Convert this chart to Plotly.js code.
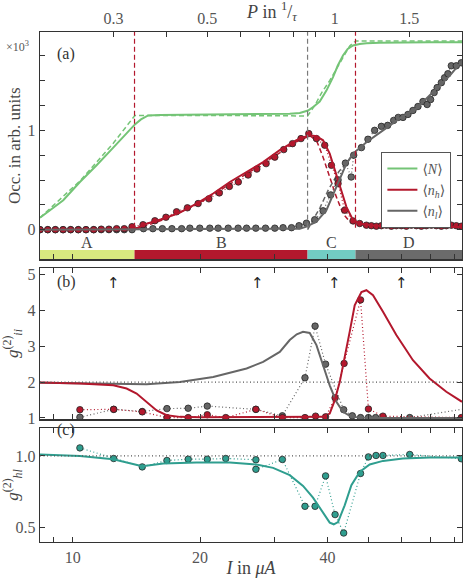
<!DOCTYPE html>
<html>
<head>
<meta charset="utf-8">
<script src="https://cdn.plot.ly/plotly-3.0.1.min.js"></script>
<style>
  html, body { margin: 0; padding: 0; background: #ffffff; }
  #chart { width: 466px; height: 578px; }
</style>
</head>
<body>
<div id="chart"></div>
<script>
// ---- Axis extents -------------------------------------------------------
// Injection current I in µA (log scale) and the current at which P = 1/τ
const currentMin = 8.37;
const currentMax = 83.2;
const currentAtUnitPump = 41.6;

const currentTicks = [10, 20, 40];
const currentMinorTicks = [9, 30, 50, 60, 70, 80];
const pumpTicks = [0.3, 0.5, 1, 1.5];
const pumpMinorTicks = [0.4, 0.6, 0.7, 0.8, 0.9];

// ---- Operating regimes --------------------------------------------------
const regimeNames = ['A', 'B', 'C', 'D'];
const regimeEdges = [8.37, 14.0, 35.9, 46.6, 83.2];
const regimeColors = ['#d8e97f', '#b3182d', '#72ccc3', '#6b6b6b'];
const thresholdColors = ['#b3182d', '#7a7a7a', '#b3182d'];

// ---- (a) occupations, in units of 10^3 ----------------------------------
const totalModelI = [8.37, 9.50, 10.40, 11.39, 12.47, 13.65, 14.03, 14.50, 15.08, 16.07, 19.97, 26.21, 32.58, 34.41, 36.0, 37.14, 38.35, 39.78, 41.24, 42.3, 43.53, 44.66, 45.98, 47.67, 49.45, 53.15, 59.27, 69.74, 83.2];
const totalModel = [0.12, 0.296, 0.48, 0.648, 0.826, 1.0, 1.06, 1.11, 1.15, 1.155, 1.158, 1.162, 1.168, 1.174, 1.20, 1.24, 1.29, 1.40, 1.535, 1.65, 1.754, 1.82, 1.854, 1.87, 1.877, 1.883, 1.887, 1.888, 1.888];

const totalStepI = [8.37, 10.40, 12.47, 13.65, 14.03, 20.0, 30.0, 35.9, 37.33, 38.78, 40.50, 42.08, 43.71, 45.15, 46.66, 83.2];
const totalStep = [0.12, 0.49, 0.87, 1.08, 1.15, 1.15, 1.148, 1.145, 1.25, 1.38, 1.50, 1.62, 1.75, 1.85, 1.90, 1.90];

const highModelI = [8.37, 13.65, 14.26, 14.95, 16.37, 17.92, 19.62, 21.48, 23.52, 25.76, 28.19, 30.86, 33.80, 35.17, 36.33, 37.68, 39.06, 40.50, 41.62, 42.77, 44.35, 45.98, 47.67, 50.35, 54.13, 66.07, 83.2];
const highModel = [0.0, 0.005, 0.02, 0.06, 0.11, 0.172, 0.263, 0.364, 0.48, 0.58, 0.68, 0.80, 0.90, 0.93, 0.95, 0.94, 0.90, 0.766, 0.598, 0.43, 0.23, 0.095, 0.062, 0.045, 0.038, 0.03, 0.028];

const highStepI = [14.03, 16.37, 19.62, 23.52, 28.19, 33.80, 36.33, 37.68, 39.06, 40.50, 41.99, 43.54, 45.15, 47.24, 53.15, 83.2];
const highStep = [0.0, 0.1, 0.25, 0.46, 0.665, 0.885, 0.945, 0.90, 0.73, 0.53, 0.33, 0.163, 0.08, 0.045, 0.032, 0.028];

const lowModelI = [8.37, 34.41, 35.68, 37.68, 39.78, 41.24, 42.77, 44.35, 45.98, 49.45, 54.13, 59.27, 64.9, 71.0, 77.76, 83.2];
const lowModel = [0, 0.01, 0.03, 0.08, 0.196, 0.347, 0.515, 0.665, 0.766, 0.88, 1.0, 1.12, 1.22, 1.385, 1.55, 1.695];

const lowStepI = [35.9, 37.0, 38.4, 40.2, 42.5, 46.6];
const lowStep = [0, 0.1, 0.22, 0.40, 0.58, 0.78];

const highDataI = [8.37, 8.73, 9.10, 9.49, 9.89, 10.31, 10.75, 11.21, 11.68, 12.18, 12.70, 13.24, 13.81,
  14.66, 15.64, 16.61, 17.60, 18.67, 19.79, 20.98, 22.21, 23.46, 24.63, 25.98, 27.24, 28.65, 30.04, 31.54, 33.08, 34.64, 36.14,
  37.68, 39.42, 40.88, 42.38, 43.94, 45.98, 47.67,
  49.45, 50.81, 52.21, 53.65, 55.13, 56.65, 58.20, 59.81, 61.46, 63.15, 64.90, 66.68, 68.52, 70.41, 72.35, 74.35, 76.40, 78.50, 80.66, 82.9];
const highData = [0, 0, 0, 0, 0, 0, 0, 0, 0.005, 0.005, 0.01, 0.01, 0.03,
  0.05, 0.09, 0.125, 0.18, 0.22, 0.263, 0.31, 0.37, 0.435, 0.48, 0.55, 0.61, 0.665, 0.73, 0.806, 0.866, 0.917, 0.967,
  0.917, 0.85, 0.648, 0.464, 0.196, 0.088, 0.062,
  0.045, 0.04, 0.035, 0.04, 0.045, 0.035, 0.04, 0.04, 0.035, 0.045, 0.04, 0.035, 0.04, 0.045, 0.04, 0.035, 0.04, 0.045, 0.04, 0.035];

const lowDataI = [8.37, 8.73, 9.10, 9.49, 9.89, 10.31, 10.75, 11.21, 11.68, 12.18, 12.70, 13.24, 13.81,
  14.70, 15.47, 16.29, 17.16, 18.09, 18.92, 19.97, 21.09, 22.07, 23.31, 24.60, 25.76, 27.09, 28.56, 30.04, 31.42, 32.90, 34.27, 35.68,
  37.33, 39.06, 40.72, 42.38, 44.11, 45.53, 46.15,
  48.13, 49.87, 51.72, 53.65, 55.52, 57.36, 58.79, 60.34, 62.0, 63.70, 65.46, 67.27, 68.82, 70.14, 71.49, 72.67, 74.35, 75.68, 77.05, 78.5, 80.66, 82.9];
const lowData = [0, 0, 0, 0, 0, 0, 0, 0, 0, 0, 0, 0, 0,
  0.01, 0.01, 0.01, 0.01, 0.01, 0.015, 0.015, 0.015, 0.015, 0.015, 0.015, 0.015, 0.015, 0.015, 0.015, 0.02, 0.02, 0.04, 0.065,
  0.10, 0.19, 0.35, 0.50, 0.67, 0.53, 0.75,
  0.826, 0.91, 1.0, 1.04, 1.05, 1.10, 1.13, 1.13, 1.16, 1.20, 1.24, 1.29, 1.26, 1.31, 1.38, 1.43, 1.48, 1.53, 1.57, 1.65, 1.65, 1.68];

// ---- (b) autocorrelation g_ii^(2) ---------------------------------------
const g2LowModelI = [8.37, 10.40, 12.47, 14.95, 17.92, 21.48, 25.76, 28.19, 30.86, 32.58, 33.85, 35.03, 36.33, 37.68, 39.06, 40.50, 42.0, 43.54, 45.57, 50.35, 83.2];
const g2LowModel = [1.98, 1.96, 1.94, 1.94, 2.0, 2.14, 2.38, 2.56, 2.84, 3.17, 3.33, 3.40, 3.37, 3.03, 2.47, 1.91, 1.45, 1.17, 1.03, 1.0, 1.0];

const g2HighModelI = [8.37, 10.40, 12.47, 13.41, 14.16, 14.95, 15.79, 16.67, 17.92, 19.97, 30.86, 39.06, 40.50, 41.62, 42.77, 43.94, 45.15, 46.40, 48.13, 49.45, 51.26, 54.13, 58.2, 63.7, 69.74, 76.4, 83.2];
const g2HighModel = [1.99, 1.96, 1.91, 1.82, 1.68, 1.45, 1.21, 1.075, 1.03, 1.02, 1.02, 1.03, 1.12, 1.49, 2.0, 2.66, 3.40, 4.14, 4.51, 4.56, 4.42, 3.96, 3.31, 2.61, 2.10, 1.73, 1.45];

const g2LowDataI = [10.4, 12.5, 14.6, 16.7, 18.75, 20.8, 27.1, 31.3, 35.4, 37.4, 39.6, 43.7, 45.8, 47.9, 50.0, 52.0, 62.6, 95.0];
const g2LowData = [1.02, 1.24, 1.18, 1.26, 1.27, 1.33, 1.24, 1.06, 2.12, 3.56, 2.5, 1.23, 1.06, 1.01, 1.01, 1.01, 1.01, 1.35];

const g2HighDataI = [10.4, 12.5, 14.6, 16.7, 18.75, 20.8, 23.0, 27.1, 31.3, 35.4, 37.5, 39.6, 41.7, 43.8, 47.9, 50.0, 54.1, 82.9];
const g2HighData = [1.23, 1.24, 1.17, 1.01, 1.01, 1.09, 1.01, 1.24, 1.01, 1.01, 1.05, 1.03, 1.56, 2.52, 4.29, 1.25, 1.05, 1.01];

// Currents marked with arrows in (b)
const markedCurrents = [12.5, 27.4, 41.6, 59.9];

// ---- (c) cross-correlation g_hl^(2) -------------------------------------
const g2CrossModelI = [8.37, 10.40, 12.47, 13.65, 14.6, 15.22, 16.37, 19.62, 23.52, 27.19, 29.76, 32.58, 35.03, 36.98, 39.06, 40.50, 41.4, 42.38, 43.94, 45.57, 47.67, 50.35, 54.13, 60.3, 69.74, 83.2];
const g2CrossModel = [1.01, 1.0, 0.977, 0.947, 0.928, 0.935, 0.947, 0.954, 0.954, 0.94, 0.916, 0.865, 0.79, 0.708, 0.60, 0.533, 0.521, 0.537, 0.654, 0.795, 0.888, 0.94, 0.965, 0.982, 0.989, 0.989];

const g2CrossDataI = [10.4, 12.5, 14.6, 16.7, 18.75, 20.8, 23.0, 27.1, 27.1, 31.3, 35.4, 37.4, 39.6, 41.7, 43.7, 47.9, 50.0, 52.1, 54.1, 62.6, 82.9];
const g2CrossData = [1.056, 0.982, 0.923, 0.968, 0.977, 0.977, 0.982, 0.973, 0.906, 0.975, 0.647, 0.647, 0.86, 0.589, 0.46, 0.877, 0.993, 1.003, 1.003, 1.01, 0.98];

// ---- Styling ------------------------------------------------------------
const green = '#74c476';
const red = '#b3182d';
const grey = '#666666';
const teal = '#2f9e8f';
const ink = '#333333';
const textGrey = '#555555';
const serif = 'Liberation Serif, DejaVu Serif, serif';
const dotted = '1px,2.5px';

function curve(x, y, color, axes, extra) {
  return Object.assign({
    x: x, y: y, type: 'scatter', mode: 'lines',
    xaxis: axes[0], yaxis: axes[1],
    line: { color: color, width: 2 },
    showlegend: false, hoverinfo: 'skip'
  }, extra || {});
}

function dashed(x, y, color, axes) {
  return curve(x, y, color, axes, { line: { color: color, width: 1.5, dash: '5px,3px' } });
}

function measured(x, y, color, axes) {
  return {
    x: x, y: y, type: 'scatter', mode: 'lines+markers',
    xaxis: axes[0], yaxis: axes[1],
    line: { color: color, width: 1.2, dash: dotted },
    marker: { color: color, size: 6.5, line: { color: '#262626', width: 0.8 } },
    showlegend: false, hoverinfo: 'skip', cliponaxis: true
  };
}

const A = ['x', 'y'], B = ['x2', 'y2'], C = ['x3', 'y3'];

const traces = [
  // (a)
  dashed(totalStepI, totalStep, green, A),
  dashed(highStepI, highStep, red, A),
  dashed(lowStepI, lowStep, grey, A),
  measured(lowDataI, lowData, grey, A),
  measured(highDataI, highData, red, A),
  curve(totalModelI, totalModel, green, A, { name: '⟨<i>N</i>⟩', showlegend: true }),
  curve(highModelI, highModel, red, A, { name: '⟨<i>n<sub>h</sub></i>⟩', showlegend: true }),
  curve(lowModelI, lowModel, grey, A, { name: '⟨<i>n<sub>l</sub></i>⟩', showlegend: true }),
  // top pump-rate axis carrier
  { x: pumpTicks, y: pumpTicks.map(() => null), xaxis: 'x4', yaxis: 'y', type: 'scatter', mode: 'lines', showlegend: false, hoverinfo: 'skip' },
  // (b)
  measured(g2LowDataI, g2LowData, grey, B),
  measured(g2HighDataI, g2HighData, red, B),
  curve(g2LowModelI, g2LowModel, grey, B),
  curve(g2HighModelI, g2HighModel, red, B),
  // (c)
  measured(g2CrossDataI, g2CrossData, teal, C),
  curve(g2CrossModelI, g2CrossModel, teal, C)
];

const logRange = [Math.log10(currentMin), Math.log10(currentMax)];
const tickFont = { family: serif, size: 16, color: textGrey };
const titleFont = { family: serif, size: 17, color: '#444' };

function tickStyle(minorVals) {
  return {
    ticks: 'inside', ticklen: 5, tickwidth: 1, tickcolor: ink,
    minor: { tickvals: minorVals, ticks: 'inside', ticklen: 5, tickwidth: 1, tickcolor: ink },
    showline: true, linecolor: ink, linewidth: 1.3,
    showgrid: false, zeroline: false, tickfont: tickFont
  };
}

function currentAxis(anchor, labelled) {
  return Object.assign(tickStyle(currentMinorTicks), {
    type: 'log', range: logRange, anchor: anchor,
    tickmode: 'array', tickvals: currentTicks, ticktext: currentTicks.map(String),
    showticklabels: labelled, mirror: 'allticks'
  });
}

function valueAxis(domain, range, vals, minorVals, title, standoff) {
  const axis = Object.assign(tickStyle(minorVals), {
    domain: domain, range: range,
    tickmode: 'array', tickvals: vals, ticktext: vals.map(v => v.toFixed(range[1] < 2 && range[0] > 0 ? 1 : 0)),
    mirror: 'allticks',
    title: { text: title, font: titleFont }
  });
  if (standoff !== undefined) axis.title.standoff = standoff;
  return axis;
}

const occRange = [-0.30, 1.99];
const bandTop = -0.205;

const xA = currentAxis('y', false);
xA.mirror = false;

const layout = {
  width: 466, height: 578,
  margin: { l: 40, r: 3.5, t: 32, b: 36 },
  paper_bgcolor: '#ffffff', plot_bgcolor: '#ffffff',
  font: { family: serif, color: textGrey },
  xaxis: xA,
  xaxis2: currentAxis('y2', false),
  xaxis3: Object.assign(currentAxis('y3', true), {
    title: { text: '<i>I</i> in <i>μA</i>', font: { family: serif, size: 18, color: '#444' }, standoff: 2 }
  }),
  xaxis4: Object.assign(tickStyle(pumpMinorTicks), {
    type: 'log', overlaying: 'x', side: 'top', anchor: 'y',
    range: [Math.log10(currentMin / currentAtUnitPump), Math.log10(currentMax / currentAtUnitPump)],
    tickmode: 'array', tickvals: pumpTicks, ticktext: pumpTicks.map(String)
  }),
  yaxis: valueAxis([0.554, 1], occRange, [0, 1], [0.25, 0.5, 0.75, 1.25, 1.5, 1.75], 'Occ. in arb. units', 2),
  yaxis2: valueAxis([0.2407, 0.5376], [0.964, 5.184], [1, 2, 3, 4, 5], [], '<i>g</i><sup>(2)</sup><sub><i>ii</i></sub>'),
  yaxis3: valueAxis([0, 0.2237], [0.397, 1.196], [0.5, 1.0], [], '<i>g</i><sup>(2)</sup><sub><i>hl</i></sub>'),
  showlegend: true,
  legend: {
    x: 0.809, y: 0.765, xanchor: 'left', yanchor: 'top',
    bgcolor: '#ffffff', bordercolor: '#555555', borderwidth: 1,
    font: { family: serif, size: 14, color: textGrey },
    itemwidth: 30, tracegroupgap: 0
  },
  shapes: [],
  annotations: []
};

// Regime bands along the bottom of (a)
regimeNames.forEach((name, i) => {
  layout.shapes.push({
    type: 'rect', layer: 'below', xref: 'x', yref: 'y',
    x0: regimeEdges[i], x1: regimeEdges[i + 1], y0: occRange[0], y1: bandTop,
    fillcolor: regimeColors[i], line: { width: 0 }
  });
  layout.annotations.push({
    xref: 'x', yref: 'y', showarrow: false,
    x: Math.log10(Math.sqrt(regimeEdges[i] * regimeEdges[i + 1])), y: -0.125,
    text: name, font: { family: serif, size: 16, color: '#444' }
  });
});

// Threshold currents between regimes
thresholdColors.forEach((color, i) => {
  layout.shapes.push({
    type: 'line', xref: 'x', yref: 'y',
    x0: regimeEdges[i + 1], x1: regimeEdges[i + 1], y0: 0.02, y1: occRange[1],
    line: { color: color, width: 1.2, dash: '5px,3px' }
  });
});

// Reference levels for the correlation functions
layout.shapes.push(
  { type: 'line', xref: 'paper', yref: 'y2', x0: 0, x1: 1, y0: 2, y1: 2, line: { color: '#555', width: 1.2, dash: dotted } },
  { type: 'line', xref: 'paper', yref: 'y3', x0: 0, x1: 1, y0: 1, y1: 1, line: { color: '#555', width: 1.2, dash: dotted } }
);

markedCurrents.forEach(c => {
  layout.annotations.push({
    xref: 'x2', yref: 'y2', showarrow: false,
    x: Math.log10(c), y: 4.76, text: '↑',
    font: { family: 'DejaVu Sans, sans-serif', size: 15, color: '#222222' }
  });
});

[['(a)', 0.978], ['(b)', 0.5095], ['(c)', 0.1976]].forEach(([label, y]) => {
  layout.annotations.push({
    xref: 'paper', yref: 'paper', showarrow: false,
    x: 0.036, y: y, text: label,
    font: { family: serif, size: 16, color: '#333' }
  });
});

// Scale factor of the occupation axis and the pump-rate axis title
layout.annotations.push(
  {
    xref: 'paper', yref: 'paper', showarrow: false, xanchor: 'left',
    x: -0.085, y: 0.99, text: '×10<sup>3</sup>',
    font: { family: serif, size: 12, color: textGrey }
  },
  {
    xref: 'paper', yref: 'paper', showarrow: false,
    x: 0.549, y: 1, yanchor: 'top', yshift: 35,
    text: '<i>P</i> in <sup>1</sup>/<sub><i>τ</i></sub>',
    font: { family: serif, size: 18, color: '#444' }
  }
);

Plotly.newPlot('chart', traces, layout, { displayModeBar: false, staticPlot: true });
</script>
</body>
</html>
